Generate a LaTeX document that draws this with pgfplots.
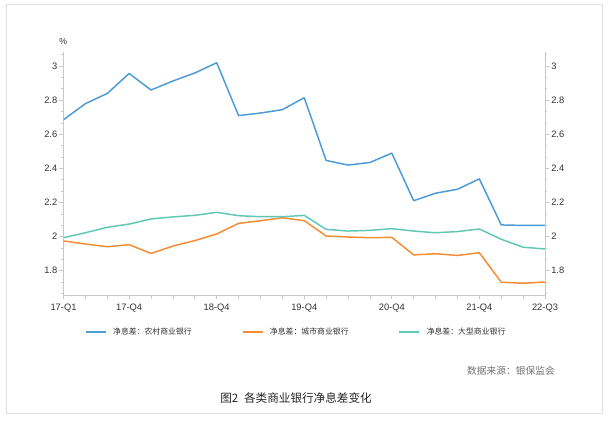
\documentclass[border=0pt]{standalone}
\usepackage{fontspec}
\setmainfont{Liberation Sans}
\newfontfamily\cjk{Noto Sans CJK SC}
\usepackage{pgfplots}
\pgfplotsset{compat=1.18}
\definecolor{cblue}{RGB}{74,155,214}
\definecolor{corange}{RGB}{245,140,52}
\definecolor{cteal}{RGB}{95,200,180}
\definecolor{axisgray}{RGB}{200,200,200}
\definecolor{labelgray}{RGB}{51,51,51}
\pgfplotstableread{
x rural city large
0 2.686 1.975 1.994
1 2.780 1.957 2.023
2 2.840 1.941 2.055
3 2.957 1.953 2.074
4 2.860 1.902 2.104
5 2.913 1.945 2.116
6 2.960 1.977 2.125
7 3.020 2.016 2.143
8 2.710 2.078 2.123
9 2.725 2.094 2.117
10 2.745 2.111 2.117
11 2.815 2.094 2.125
12 2.447 2.004 2.043
13 2.420 1.998 2.033
14 2.435 1.994 2.037
15 2.490 1.996 2.047
16 2.211 1.893 2.033
17 2.255 1.900 2.023
18 2.278 1.890 2.030
19 2.339 1.906 2.045
20 2.069 1.733 1.985
21 2.066 1.727 1.938
22 2.066 1.734 1.928
}\datatable
\begin{document}
\begin{tikzpicture}
\path[use as bounding box] (0,0) rectangle (456.75pt,315.75pt);
\fill[white] (0,0) rectangle (456.75pt,315.75pt);
\draw[black!12, line width=0.6pt] (4.5pt,6pt) rectangle (451.5pt,312.75pt);
\pgfplotsset{
  myaxis/.style={
    at={(47.625pt,94.5pt)}, anchor=south west,
    scale only axis, width=361.125pt, height=182.5pt,
    xmin=0, xmax=22, ymin=1.658, ymax=3.085,
    axis line style={draw=axisgray, line width=0.6pt, -},
    ytick={1.8,2,2.2,2.4,2.6,2.8,3},
    minor ytick={1.6667,1.7333,1.8667,1.9333,2.0667,2.1333,2.2667,2.3333,2.4667,2.5333,2.6667,2.7333,2.8667,2.9333,3.0667},
    tick align=outside,
    major tick length=3pt, minor tick length=1.5pt,
    tick style={draw=axisgray, line width=0.6pt},
    ticklabel style={font=\fontsize{7}{8}\selectfont, text=labelgray},
    /pgf/number format/assume math mode=true,
    yticklabel style={/pgf/number format/fixed, inner sep=1.5pt},
  }
}
\begin{axis}[myaxis,
  axis x line*=bottom, axis y line*=left,
  xtick={0,...,22},
  xticklabels={17-Q1,{},{},17-Q4,{},{},{},18-Q4,{},{},{},19-Q4,{},{},{},20-Q4,{},{},{},21-Q4,{},{},22-Q3},
  legend columns=3,
  legend style={at={(axis description cs:0.0447,-0.152)}, anchor=west,
    draw=none, fill=none, inner sep=0pt, outer sep=0pt,
    font=\cjk\fontsize{5.9}{7}\selectfont, text=labelgray,
    nodes={inner sep=0pt},
    /tikz/every odd column/.style={column sep=5pt},
    /tikz/every even column/.style={column sep=37.5pt}},
  legend image code/.code={\draw[#1] (0pt,0pt) -- (15pt,0pt);},
  every axis plot/.append style={line width=1.1pt, line join=round},
]
\addplot[cblue, no marks] table[x=x, y=rural] {\datatable};
\addlegendentry{净息差：农村商业银行}
\addplot[corange, no marks] table[x=x, y=city] {\datatable};
\addlegendentry{净息差：城市商业银行}
\addplot[cteal, no marks] table[x=x, y=large] {\datatable};
\addlegendentry{净息差：大型商业银行}
\end{axis}
\begin{axis}[myaxis,
  axis x line=none, axis y line*=right,
  xtick=\empty,
]
\end{axis}
\node[font=\fontsize{6.5}{7}\selectfont, text=labelgray, anchor=south] at (47.4pt,279pt) {\%};
\node[font=\cjk\fontsize{7.3}{8}\selectfont, text=black!55, anchor=east, inner sep=0pt] at (416.25pt,38pt) {数据来源：银保监会};
\node[font=\cjk\fontsize{8.7}{10}\selectfont, text=black!85, inner sep=0pt] at (222pt,17.25pt) {图2\hspace{0.5em}各类商业银行净息差变化};
\end{tikzpicture}
\end{document}
